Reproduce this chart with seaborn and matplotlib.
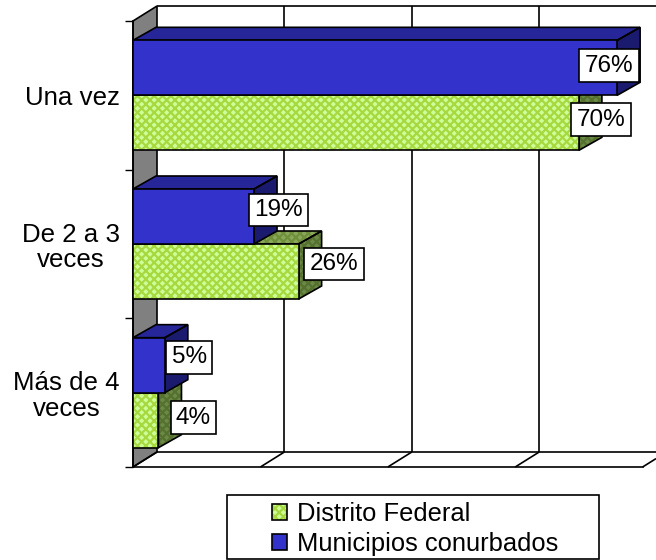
import numpy as np
import pandas as pd
import matplotlib
matplotlib.use("Agg")
import matplotlib.pyplot as plt
import seaborn as sns
from matplotlib.patches import Patch, Polygon, Rectangle
from matplotlib.legend_handler import HandlerTuple

categories = ["Una vez", "De 2 a 3\nveces", "Más de 4\nveces"]
municipios = [76, 19, 5]
distrito = [70, 26, 4]
name_mun = "Municipios conurbados"
name_df = "Distrito Federal"
x_ticks = [0, 20, 40, 60, 80]

W, H = 656, 560
LEFT, TOP, BOTTOM = 133, 21, 467
PX_PCT = 6.37  # px for 1 %
HATCH = "xxxx"

sns.set_style("white")
plt.rcParams["font.family"] = ["Liberation Sans", "DejaVu Sans"]
plt.rcParams["hatch.linewidth"] = 1.6

df = pd.DataFrame({
    "cat": categories * 2,
    "val": municipios + distrito,
    "serie": [name_mun] * 3 + [name_df] * 3,
})

BLUE, BLUE_TOP, BLUE_SIDE = "#3333cc", "#262699", "#1a1a6e"
GREEN, GREEN_H = "#ccff99", "#a8d83f"
TOP_G, TOP_GH = "#8aa85a", "#6f8f3a"
SIDE_G, SIDE_GH = "#6b8a45", "#56702f"

fig = plt.figure(figsize=(W / 100, H / 100), dpi=100)
ax = fig.add_axes([LEFT / W, 1 - BOTTOM / H, (W - LEFT) / W, (BOTTOM - TOP) / H])

sns.barplot(data=df, y="cat", x="val", hue="serie", hue_order=[name_mun, name_df],
            order=categories, palette=[BLUE, GREEN], saturation=1, width=0.74,
            gap=0, orient="h", legend=False, ax=ax, linewidth=0, zorder=5)

ax.set_xlim(0, (W - LEFT) / PX_PCT)
ax.set_ylim(2.5, -0.5)
px_y = 3 / (BOTTOM - TOP)  # categories per px
wall_dx, wall_dy = 24 / PX_PCT, 15 * px_y
bar_dx, bar_dy = 23 / PX_PCT, 13 * px_y


def face(pts, fc, hc=None, z=3):
    # filled face, then black outline on top so the hatch can have its own colour
    if hc is None:
        ax.add_patch(Polygon(pts, closed=True, fc=fc, ec="none", zorder=z, clip_on=False))
    else:
        ax.add_patch(Polygon(pts, closed=True, fc=fc, ec=hc, hatch=HATCH, lw=0, zorder=z, clip_on=False))
    ax.add_patch(Polygon(pts, closed=True, fill=False, ec="black", lw=1.2, zorder=z + 0.5, clip_on=False))


# side wall
face([(0, -0.5), (wall_dx, -0.5 - wall_dy), (wall_dx, 2.5 - wall_dy), (0, 2.5)], "#808080", z=1)

# back grid + floor
right = (W - LEFT) / PX_PCT
line = dict(color="black", lw=1.2, clip_on=False, solid_capstyle="butt")
ax.plot([wall_dx, right], [-0.5 - wall_dy] * 2, zorder=1.5, **line)
ax.plot([wall_dx, right], [2.5 - wall_dy] * 2, zorder=1.5, **line)
for t in x_ticks:
    ax.plot([t, min(t + wall_dx, right)], [2.5, 2.5 - wall_dy * min(1, (right - t) / wall_dx)], zorder=1.5, **line)
    if t > 0 and t + wall_dx < right:
        ax.plot([t + wall_dx] * 2, [-0.5 - wall_dy, 2.5 - wall_dy], zorder=1.5, **line)

# bars: seaborn draws the front faces, depth comes from each bar
bars_mun, bars_df = ax.containers[0], ax.containers[1]
for b in bars_df:
    b.set_hatch(HATCH)
    b.set_edgecolor(GREEN_H)
    b.set_linewidth(0)

for bars, cols, z in ((bars_df, (TOP_G, TOP_GH, SIDE_G, SIDE_GH), 3), (bars_mun, (BLUE_TOP, None, BLUE_SIDE, None), 4)):
    for b in bars:
        w, y0, y1 = b.get_width(), b.get_y(), b.get_y() + b.get_height()
        face([(0, y0), (bar_dx, y0 - bar_dy), (w + bar_dx, y0 - bar_dy), (w, y0)], cols[0], cols[1], z=z)
        face([(w, y0), (w + bar_dx, y0 - bar_dy), (w + bar_dx, y1 - bar_dy), (w, y1)], cols[2], cols[3], z=z)
        b.set_zorder(z + 1)
        ax.add_patch(Rectangle((0, y0), w, y1 - y0, fill=False, ec="black", lw=1.2, zorder=z + 1.5, clip_on=False))

# value labels, shift from the end of the bar in px
shift_mun = [(-8, -2), (24.5, -6.5), (24.5, -8)]
shift_df = [(22, -3), (35.5, -7.5), (35, -2.5)]
for bars, vals, shifts in ((bars_mun, municipios, shift_mun), (bars_df, distrito, shift_df)):
    for b, v, s in zip(bars, vals, shifts):
        ax.annotate(f"{v}%", (b.get_width(), b.get_y() + b.get_height() / 2),
                    xytext=(s[0] * 0.72, -s[1] * 0.72), textcoords="offset points",
                    ha="center", va="center", fontsize=17.5, color="black", zorder=10,
                    bbox=dict(boxstyle="square,pad=0.22", fc="white", ec="black", lw=1.2))

# axes
ax.set_xlabel("")
ax.set_ylabel("")
ax.set_xticks([])
sns.despine(ax=ax, top=True, right=True, bottom=False, left=False)
ax.spines["bottom"].set_bounds(0, 80)
ax.spines["bottom"].set_linewidth(1.2)
ax.spines["bottom"].set_color("black")
ax.spines["bottom"].set_zorder(1.5)
ax.spines["left"].set_linewidth(1.2)
ax.spines["left"].set_color("black")
ax.set_yticks(np.arange(len(categories)), categories)
ax.set_yticks([-0.5, 0.5, 1.5, 2.5], minor=True)
ax.tick_params(axis="y", which="major", length=0, pad=9.4, labelsize=18.6, labelcolor="black")
ax.tick_params(axis="y", which="minor", left=True, length=5.8, width=1.0, color="black")
for lab in ax.get_yticklabels():
    lab.set_multialignment("center")
    lab.set_linespacing(1.1)

# legend
fig.add_artist(Rectangle((227 / W, 1 - 559 / H), 372 / W, 64 / H, transform=fig.transFigure,
                         fc="white", ec="black", lw=1.2))
h_df = (Patch(fc=GREEN, ec=GREEN_H, hatch=HATCH, lw=0), Patch(fill=False, ec="black", lw=1.2))
h_mun = (Patch(fc=BLUE, ec="none"), Patch(fill=False, ec="black", lw=1.2))
fig.legend([h_df, h_mun], [name_df, name_mun], loc="upper left",
           bbox_to_anchor=(272 / W, 1 - 502 / H), bbox_transform=fig.transFigure,
           frameon=False, borderpad=0, borderaxespad=0, fontsize=18.4, handlelength=0.6,
           handleheight=0.6, handletextpad=0.36, labelspacing=0.22, labelcolor="black",
           handler_map={tuple: HandlerTuple(ndivide=1, pad=0)})

fig.savefig("out.png", dpi=100)
